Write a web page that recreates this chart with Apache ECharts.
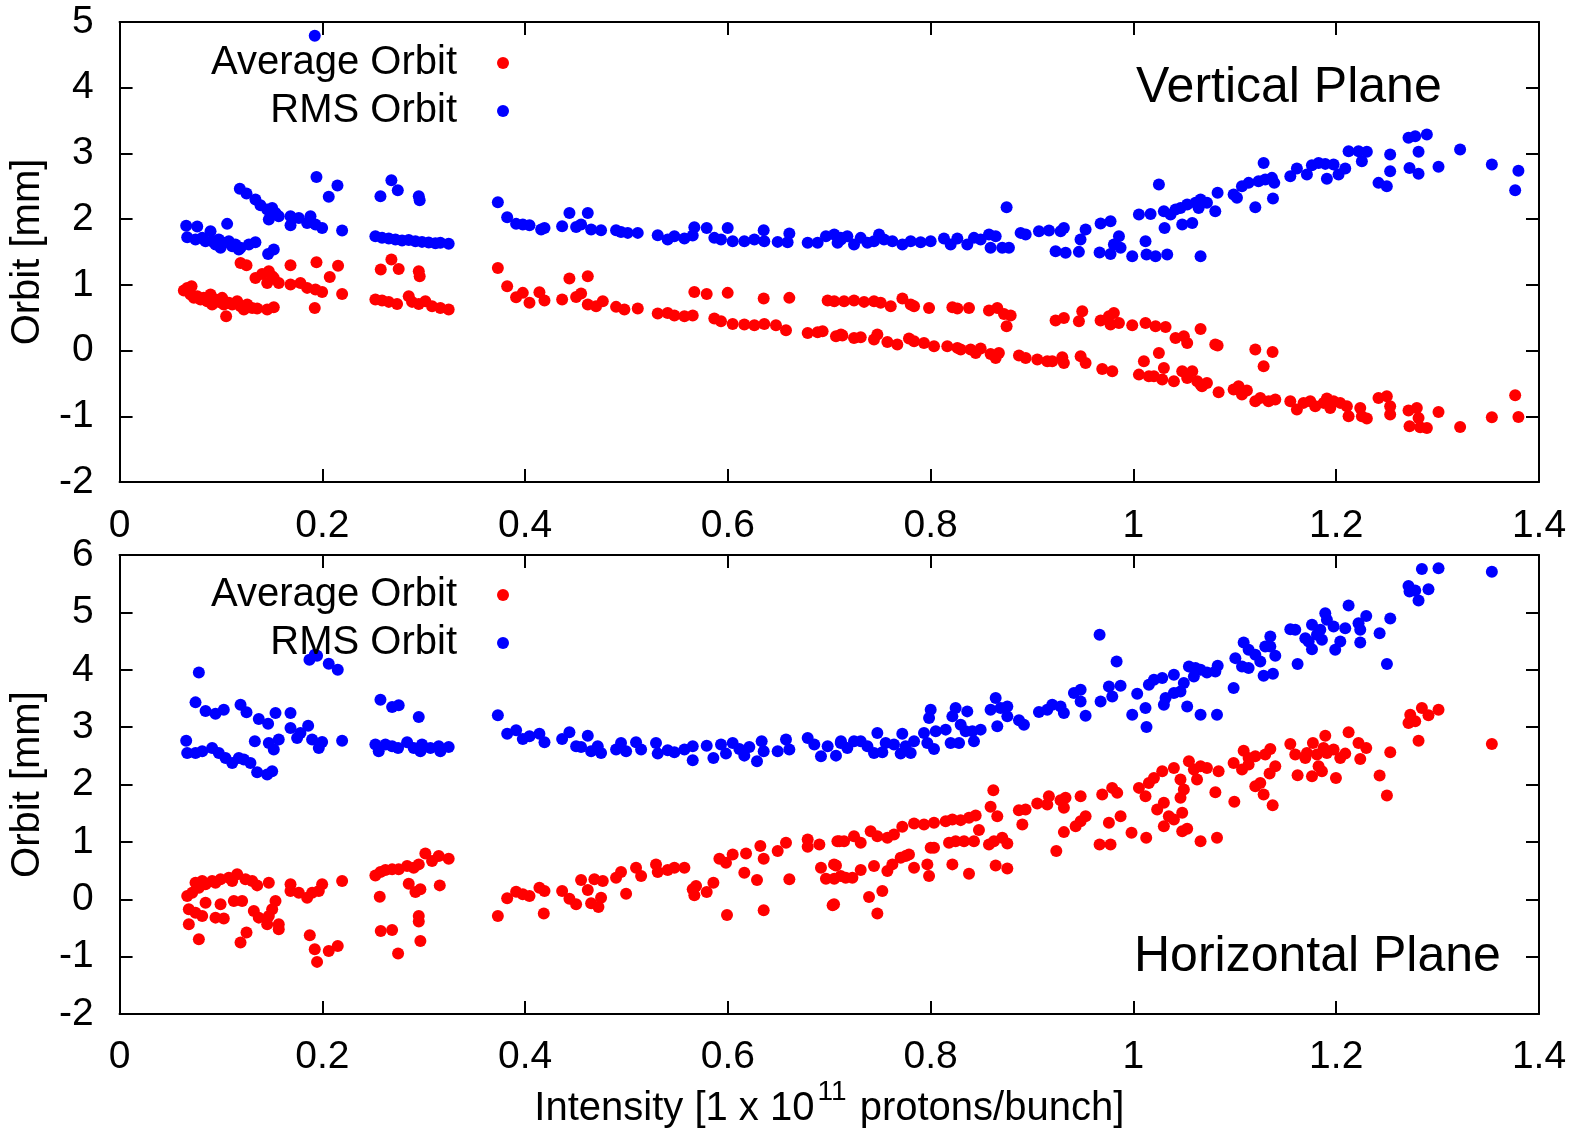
<!DOCTYPE html>
<html lang="en">

<head>
    <meta charset="UTF-8">
    <title>Orbit vs Intensity</title>
    <script src="https://cdn.jsdelivr.net/npm/echarts@6/dist/echarts.min.js"></script>
    <style>
        html, body { margin: 0; padding: 0; background: #fff; }
        #chart { width: 1585px; height: 1130px; }
    </style>
</head>

<body>
    <div id="chart"></div>

    <script>
        // x tick labels of both panels
        var xTicks = ['0', '0.2', '0.4', '0.6', '0.8', '1', '1.2', '1.4'];

        // Vertical plane - average orbit [intensity, mm]
        var vAvg = [
            [0.0634, 0.913], [0.0667, 0.954], [0.071, 0.979], [0.070, 0.852], [0.0733, 0.802], [0.0766, 0.827],
            [0.0798, 0.776], [0.0831, 0.802], [0.0864, 0.751], [0.0897, 0.852], [0.0913, 0.70], [0.0946, 0.776],
            [0.0979, 0.741], [0.1012, 0.802], [0.1028, 0.70], [0.1051, 0.523], [0.1078, 0.726], [0.1111, 0.70],
            [0.116, 0.751], [0.1193, 0.675], [0.1226, 0.624], [0.1259, 0.70], [0.1308, 0.649], [0.1357, 0.639],
            [0.1456, 0.624], [0.1521, 0.66], [0.1925, 0.649], [0.1193, 1.334], [0.1252, 1.299], [0.134, 1.106],
            [0.1406, 1.167], [0.1472, 1.208], [0.1505, 1.131], [0.157, 1.03], [0.1456, 1.03], [0.1521, 1.106],
            [0.1686, 1.299], [0.1942, 1.345], [0.2073, 1.121], [0.2155, 1.289], [0.1686, 1.005], [0.1784, 1.03],
            [0.185, 0.954], [0.1932, 0.928], [0.1998, 0.893], [0.2195, 0.862], [0.2576, 1.233], [0.2681, 1.385],
            [0.2753, 1.243], [0.2951, 1.207], [0.296, 1.131], [0.2523, 0.776], [0.2589, 0.761], [0.2655, 0.741],
            [0.2737, 0.71], [0.2852, 0.827], [0.2885, 0.741], [0.2951, 0.71], [0.3016, 0.751], [0.3082, 0.675],
            [0.3164, 0.649], [0.3246, 0.624],
            [0.3731, 1.258], [0.3823, 0.979], [0.3911, 0.812], [0.3977, 0.878], [0.4043, 0.726], [0.4141, 0.888],
            [0.4191, 0.761], [0.4365, 0.776], [0.4437, 1.096], [0.4503, 0.817], [0.4552, 0.868], [0.4618, 1.131],
            [0.4618, 0.70], [0.47, 0.675], [0.4766, 0.751], [0.4897, 0.665], [0.4979, 0.624], [0.5111, 0.639],
            [0.5308, 0.563], [0.5406, 0.573], [0.5472, 0.533], [0.5571, 0.523], [0.5653, 0.533], [0.5669, 0.893],
            [0.5791, 0.862], [0.5866, 0.487], [0.5932, 0.446], [0.5998, 0.878], [0.6047, 0.406], [0.6162, 0.396],
            [0.6261, 0.386], [0.6353, 0.791], [0.6359, 0.406], [0.6474, 0.386], [0.6573, 0.309], [0.6606, 0.802],
            [0.6787, 0.269], [0.6885, 0.279], [0.6934, 0.294], [0.6984, 0.761], [0.7049, 0.751], [0.7066, 0.218],
            [0.7115, 0.244],
            [0.7146, 0.751], [0.7244, 0.761], [0.7343, 0.741], [0.7441, 0.751], [0.7507, 0.726], [0.7606, 0.675],
            [0.7721, 0.791], [0.7803, 0.70], [0.7836, 0.675], [0.7984, 0.649], [0.8214, 0.66], [0.8263, 0.639],
            [0.8378, 0.649], [0.8575, 0.609], [0.8657, 0.649], [0.8723, 0.558], [0.8789, 0.533], [0.8749, 0.37],
            [0.7129, 0.228], [0.7244, 0.193], [0.731, 0.203], [0.7441, 0.167], [0.7474, 0.243], [0.7573, 0.132],
            [0.7671, 0.091], [0.7786, 0.183], [0.7836, 0.142], [0.7934, 0.117], [0.8033, 0.066], [0.8164, 0.066],
            [0.8263, 0.041], [0.8296, 0.015], [0.8394, 0.015], [0.8444, -0.036], [0.8493, 0.03], [0.8591, -0.051],
            [0.8641, -0.112], [0.8673, -0.036], [0.8871, -0.076], [0.8937, -0.112], [0.9052, -0.137], [0.915, -0.162],
            [0.9199, -0.162], [0.9298, -0.101], [0.9314, -0.188], [0.9479, -0.086], [0.9528, -0.188], [0.9692, -0.279],
            [0.9791, -0.315], [1.0054, -0.366], [1.0152, -0.391], [1.0202, -0.391], [1.0284, -0.442], [1.0399, -0.467],
            [1.0481, -0.315], [1.053, -0.416], [1.058, -0.315], [1.0629, -0.467], [1.0662, -0.518], [1.0103, -0.162],
            [1.0251, -0.036], [1.03, -0.264],
            [0.9232, 0.457], [0.9314, 0.497], [0.9462, 0.446], [0.9495, 0.599], [0.9676, 0.457], [0.9758, 0.523],
            [0.9807, 0.573], [0.9857, 0.421], [0.9774, 0.396], [0.9988, 0.386], [1.0119, 0.421], [1.0218, 0.37],
            [1.0317, 0.36], [1.0415, 0.193], [1.0497, 0.218], [1.053, 0.117], [1.0662, 0.33],
            [1.0676, -0.543], [1.0725, -0.492], [1.0807, 0.091], [1.083, 0.076], [1.084, -0.634], [1.0988, -0.594],
            [1.1037, -0.543], [1.107, -0.67], [1.1119, -0.609], [1.1202, 0.015], [1.1202, -0.771], [1.1251, -0.72],
            [1.1284, -0.238], [1.1333, -0.771], [1.1372, -0.02], [1.1399, -0.746], [1.1547, -0.771], [1.1612, -0.898],
            [1.1678, -0.796], [1.1744, -0.771], [1.1793, -0.847], [1.1875, -0.796], [1.1908, -0.731], [1.1941, -0.873],
            [1.1974, -0.771], [1.2039, -0.796], [1.2105, -0.847], [1.2122, -0.999], [1.2237, -0.873], [1.2253, -0.999],
            [1.2302, -1.035], [1.2417, -0.72], [1.2499, -0.695], [1.2532, -0.847], [1.2532, -0.974], [1.2713, -0.913],
            [1.2723, -1.152], [1.2795, -0.873], [1.2812, -1.025], [1.2828, -1.167], [1.2894, -1.177], [1.3009, -0.934],
            [1.3222, -1.162], [1.3535, -1.015], [1.3765, -0.68], [1.3797, -1.01]
        ];

        // Vertical plane - RMS orbit
        var vRms = [
            [0.1925, 4.79], [0.0657, 1.90], [0.0766, 1.887], [0.0667, 1.725], [0.0749, 1.689], [0.0815, 1.715],
            [0.0848, 1.664], [0.0897, 1.816], [0.0913, 1.664], [0.0946, 1.613], [0.0979, 1.689], [0.0996, 1.563],
            [0.1028, 1.639], [0.1061, 1.928], [0.1078, 1.664], [0.1111, 1.588], [0.1143, 1.613], [0.1176, 1.537],
            [0.1193, 1.563], [0.1275, 1.613], [0.134, 1.649], [0.1465, 1.471], [0.1521, 1.537], [0.1186, 2.461],
            [0.1252, 2.39], [0.134, 2.298], [0.139, 2.212], [0.1456, 2.146], [0.1505, 2.171], [0.1538, 2.095],
            [0.157, 2.045], [0.1472, 1.994], [0.1521, 2.095], [0.1686, 2.045], [0.1686, 1.908], [0.1768, 2.019],
            [0.1883, 2.045], [0.185, 1.943], [0.1932, 1.918], [0.1998, 1.867], [0.1942, 2.643], [0.2063, 2.339],
            [0.2149, 2.511], [0.2195, 1.826], [0.2573, 2.349], [0.2681, 2.592], [0.2744, 2.44], [0.2951, 2.349],
            [0.296, 2.288], [0.2523, 1.74], [0.2589, 1.715], [0.2655, 1.705], [0.2721, 1.689], [0.2786, 1.674],
            [0.2852, 1.684], [0.2918, 1.664], [0.2983, 1.654], [0.3049, 1.644], [0.3115, 1.634], [0.3164, 1.639],
            [0.3246, 1.624],
            [0.3731, 2.258], [0.3823, 2.029], [0.3911, 1.928], [0.3977, 1.918], [0.4043, 1.907], [0.4158, 1.842],
            [0.4191, 1.867], [0.4365, 1.892], [0.4437, 2.095], [0.4503, 1.882], [0.4552, 1.918], [0.4618, 2.095],
            [0.4651, 1.842], [0.4749, 1.831], [0.4897, 1.831], [0.4946, 1.806], [0.5012, 1.791], [0.5111, 1.791],
            [0.5308, 1.755], [0.5406, 1.689], [0.5472, 1.74], [0.5571, 1.705], [0.5653, 1.75], [0.5669, 1.877],
            [0.5791, 1.867], [0.5866, 1.715], [0.5932, 1.689], [0.5998, 1.867], [0.6047, 1.664], [0.6162, 1.664],
            [0.6261, 1.689], [0.6353, 1.831], [0.6359, 1.664], [0.6491, 1.654], [0.6589, 1.649], [0.6606, 1.781],
            [0.6787, 1.639], [0.6885, 1.639], [0.6967, 1.74], [0.7049, 1.766], [0.7082, 1.639], [0.7115, 1.689],
            [0.7113, 1.715], [0.7178, 1.74], [0.7244, 1.613], [0.731, 1.715], [0.7376, 1.639], [0.7441, 1.664],
            [0.7491, 1.766], [0.754, 1.689], [0.7622, 1.664], [0.7721, 1.613], [0.7803, 1.664], [0.7901, 1.649],
            [0.80, 1.664], [0.8131, 1.705], [0.8197, 1.613], [0.8263, 1.705], [0.8361, 1.613], [0.8427, 1.715],
            [0.8493, 1.689], [0.8575, 1.766], [0.8641, 1.74], [0.8591, 1.563], [0.8706, 1.563], [0.8772, 1.563],
            [0.8749, 2.182], [0.8887, 1.791], [0.8937, 1.766], [0.9068, 1.816], [0.9167, 1.826], [0.9282, 1.816],
            [0.9314, 1.867], [0.9232, 1.512], [0.9331, 1.487], [0.9462, 1.502], [0.9478, 1.689], [0.9528, 1.842],
            [0.9676, 1.933], [0.9774, 1.969], [0.9666, 1.492], [0.9774, 1.471], [0.9807, 1.613], [0.9857, 1.74],
            [0.9873, 1.563], [0.9988, 1.436], [1.0054, 2.07], [1.0119, 1.664], [1.0169, 2.08], [1.0129, 1.461],
            [1.0218, 1.436], [1.0251, 2.527], [1.03, 2.121], [1.0307, 1.867], [1.0333, 1.461], [1.0366, 2.07],
            [1.0415, 2.146], [1.0464, 2.171], [1.0481, 1.918], [1.053, 2.222], [1.058, 1.943], [1.0612, 2.248],
            [1.0662, 2.298], [1.0662, 1.436],
            [1.0643, 2.171], [1.0725, 2.248], [1.0807, 2.121], [1.083, 2.40], [1.0988, 2.374], [1.1021, 2.324],
            [1.107, 2.501], [1.1136, 2.552], [1.1202, 2.182], [1.1234, 2.577], [1.1284, 2.856], [1.13, 2.603],
            [1.1366, 2.628], [1.1376, 2.314], [1.1389, 2.552], [1.1547, 2.653], [1.1612, 2.77], [1.1711, 2.679],
            [1.176, 2.821], [1.1826, 2.856], [1.1892, 2.841], [1.1908, 2.613], [1.1974, 2.831], [1.2023, 2.679],
            [1.2089, 2.77], [1.2122, 3.034], [1.222, 3.034], [1.2253, 2.882], [1.2302, 3.024], [1.2417, 2.552],
            [1.2499, 2.501], [1.2532, 2.983], [1.2532, 2.73], [1.2713, 3.237], [1.2723, 2.78], [1.2779, 3.262],
            [1.2812, 3.024], [1.2812, 2.689], [1.2894, 3.288], [1.3009, 2.796], [1.3222, 3.059], [1.3535, 2.831],
            [1.3765, 2.44], [1.3797, 2.735]
        ];

        // Horizontal plane - average orbit
        var hAvg = [
            [0.0667, 0.058], [0.0683, -0.174], [0.0716, 0.116], [0.0782, 0.203], [0.0848, 0.261], [0.0913, 0.319],
            [0.0996, 0.348], [0.1078, 0.377], [0.116, 0.435], [0.1242, 0.348], [0.1308, 0.319], [0.1357, 0.243],
            [0.1472, 0.29], [0.0749, 0.29], [0.0815, 0.319], [0.0946, 0.29], [0.1111, 0.319], [0.0848, -0.058],
            [0.0996, -0.087], [0.1127, -0.029], [0.1209, -0.029], [0.0749, -0.232], [0.0815, -0.29], [0.0946, -0.319],
            [0.1028, -0.336], [0.0683, -0.435], [0.1324, -0.203], [0.1373, -0.319], [0.1456, -0.435], [0.1538, -0.029],
            [0.1505, -0.174], [0.1472, -0.29], [0.157, -0.435], [0.157, -0.522], [0.0782, -0.696], [0.1193, -0.754],
            [0.1252, -0.58], [0.1686, 0.261], [0.1686, 0.145], [0.1768, 0.116], [0.185, 0.029], [0.1899, 0.116],
            [0.1965, 0.145], [0.1998, 0.261], [0.2195, 0.319], [0.1876, -0.626], [0.1925, -0.87], [0.1948, -1.09],
            [0.2063, -0.899], [0.2152, -0.812], [0.2523, 0.417], [0.2573, 0.475], [0.2622, 0.51], [0.2688, 0.522],
            [0.2753, 0.522], [0.2836, 0.58], [0.2901, 0.551], [0.2951, 0.609], [0.3016, 0.80], [0.3082, 0.667],
            [0.3148, 0.754], [0.3246, 0.707], [0.2852, 0.272], [0.2918, 0.128], [0.2967, 0.174], [0.3158, 0.243],
            [0.2566, 0.046], [0.2576, -0.551], [0.2688, -0.533], [0.2747, -0.945], [0.2951, -0.29], [0.2951, -0.388],
            [0.2967, -0.725],
            [0.3731, -0.29], [0.3823, 0.017], [0.3911, 0.133], [0.3977, 0.087], [0.4043, 0.058], [0.4141, 0.203],
            [0.4184, -0.249], [0.4191, 0.145], [0.4365, 0.145], [0.4437, 0.012], [0.4503, -0.087], [0.4552, 0.336],
            [0.4618, 0.162], [0.4651, -0.07], [0.4683, 0.348], [0.4723, -0.133], [0.4749, 0.029], [0.4766, 0.319],
            [0.4897, 0.377], [0.4946, 0.475], [0.4996, 0.099], [0.5094, 0.551], [0.5144, 0.406], [0.5291, 0.609],
            [0.5308, 0.475], [0.5406, 0.51], [0.5472, 0.551], [0.5571, 0.551], [0.5653, 0.174], [0.5669, 0.07],
            [0.5686, 0.232], [0.5791, 0.128], [0.5857, 0.29], [0.5916, 0.707], [0.5981, 0.638], [0.5991, -0.272],
            [0.6047, 0.783], [0.6162, 0.464], [0.6179, 0.80], [0.6287, 0.336], [0.632, 0.928], [0.6353, 0.707],
            [0.6353, -0.191], [0.6491, 0.841], [0.6573, 0.986], [0.6606, 0.348], [0.6787, 1.043], [0.6787, 0.916],
            [0.6902, 0.957], [0.6918, 0.551], [0.6967, 0.359], [0.7033, -0.104], [0.7049, 0.359], [0.7066, 0.591],
            [0.7099, 1.014],
            [0.7047, -0.087], [0.7047, 0.609], [0.7113, 0.406], [0.7162, 0.377], [0.7228, 0.377], [0.731, 0.51],
            [0.7392, 0.041], [0.7441, 0.58], [0.7474, -0.249], [0.7523, 0.145], [0.7573, 0.493], [0.7622, 0.609],
            [0.7704, 0.725], [0.7753, 0.754], [0.7786, 0.783], [0.7836, 0.551], [0.7967, 0.609], [0.7984, 0.406],
            [0.8214, 0.609], [0.8378, 0.446], [0.8641, 0.591], [0.8756, 0.539], [0.708, 1.014], [0.7146, 1.014],
            [0.7244, 1.101], [0.731, 0.986], [0.7408, 1.188], [0.7474, 1.101], [0.7573, 1.072], [0.7638, 1.13],
            [0.772, 1.264], [0.7836, 1.322], [0.7934, 1.304], [0.8033, 1.333], [0.8148, 1.362], [0.8214, 1.391],
            [0.8296, 1.38], [0.8378, 1.42], [0.8444, 1.461], [0.8476, 1.206], [0.8591, 1.612], [0.8618, 1.901],
            [0.8657, 1.449], [0.8575, 0.957], [0.8624, 1.014], [0.8706, 1.072], [0.8756, 0.974], [0.80, 0.899],
            [0.8033, 0.899], [0.8181, 0.986], [0.8246, 1.014], [0.8329, 1.014], [0.8427, 1.014], [0.887, 1.554],
            [0.8936, 1.565], [0.8904, 1.304], [0.9051, 1.67], [0.9166, 1.797], [0.915, 1.652], [0.9281, 1.728],
            [0.9314, 1.594], [0.933, 1.768], [0.9314, 1.171], [0.9479, 1.797], [0.943, 1.275], [0.9479, 1.362],
            [0.9528, 1.449], [0.9239, 0.841], [0.9666, 0.957], [0.9774, 0.957], [0.9692, 1.826], [0.979, 1.942],
            [0.984, 1.855], [0.9873, 1.449], [0.9758, 1.333], [0.9981, 1.159], [1.0054, 1.942], [1.0119, 1.797],
            [1.0152, 2.029], [1.0202, 2.116], [1.0284, 2.232], [1.0399, 2.29], [1.0464, 2.087], [1.0547, 2.406],
            [1.0596, 2.261], [1.0662, 2.319], [1.0234, 1.565], [1.03, 1.681], [1.0349, 1.449], [1.0399, 1.391],
            [1.0464, 1.768], [1.0481, 1.507], [1.0497, 1.913], [1.03, 1.275], [1.0481, 1.188], [1.053, 1.229],
            [1.0126, 1.072], [1.0662, 1.014],
            [1.0627, 2.087], [1.0725, 2.29], [1.0808, 1.867], [1.084, 2.232], [1.0824, 1.072], [1.0988, 2.377],
            [1.0995, 1.699], [1.1071, 2.261], [1.1087, 2.591], [1.1136, 2.348], [1.1136, 2.464], [1.1202, 1.971],
            [1.1202, 2.493], [1.1251, 2.029], [1.1284, 1.826], [1.13, 2.522], [1.135, 2.62], [1.1343, 2.191],
            [1.1373, 1.641], [1.1399, 2.319], [1.1547, 2.707], [1.1596, 2.522], [1.1619, 2.162], [1.1695, 2.464],
            [1.1711, 2.551], [1.1761, 2.145], [1.177, 2.725], [1.181, 2.522], [1.1826, 2.319], [1.1859, 2.232],
            [1.1875, 2.638], [1.1892, 2.852], [1.1908, 2.551], [1.1974, 2.609], [1.1997, 2.116], [1.204, 2.464],
            [1.2089, 2.539], [1.2122, 2.91], [1.222, 2.725], [1.2237, 2.446], [1.2296, 2.638], [1.2428, 2.157],
            [1.25, 1.809], [1.2533, 2.562], [1.2713, 3.072], [1.273, 3.217], [1.2779, 3.101], [1.2812, 2.765],
            [1.2845, 3.333], [1.291, 3.206], [1.3009, 3.304], [1.3535, 2.707]
        ];

        // Horizontal plane - RMS orbit
        var hRms = [
            [0.0782, 3.954], [0.0657, 2.765], [0.0667, 2.551], [0.0749, 3.432], [0.0848, 3.281], [0.0946, 3.235],
            [0.1028, 3.304], [0.0749, 2.551], [0.0815, 2.58], [0.0913, 2.638], [0.0979, 2.551], [0.1045, 2.464],
            [0.1111, 2.377], [0.1176, 2.464], [0.1226, 2.435], [0.1291, 2.377], [0.1357, 2.214], [0.1334, 2.754],
            [0.1456, 2.174], [0.1505, 2.232], [0.1193, 3.391], [0.1252, 3.258], [0.1373, 3.142], [0.1465, 3.061],
            [0.1538, 3.246], [0.1472, 2.725], [0.1521, 2.609], [0.157, 2.783], [0.1686, 3.246], [0.1686, 2.986],
            [0.1751, 2.812], [0.1784, 2.899], [0.186, 3.026], [0.1899, 2.783], [0.1965, 2.638], [0.1998, 2.742],
            [0.2195, 2.765], [0.1873, 4.174], [0.1925, 4.261], [0.1948, 4.243], [0.2063, 4.104], [0.2152, 4.0],
            [0.2573, 3.478], [0.2688, 3.351], [0.2753, 3.38], [0.2951, 3.177], [0.2523, 2.696], [0.2556, 2.58],
            [0.2622, 2.696], [0.2688, 2.667], [0.2747, 2.638], [0.2836, 2.736], [0.2901, 2.638], [0.2967, 2.58],
            [0.2983, 2.696], [0.3066, 2.638], [0.3148, 2.667], [0.3164, 2.58], [0.3246, 2.655],
            [0.3731, 3.206], [0.3823, 2.887], [0.3911, 2.945], [0.3977, 2.794], [0.4043, 2.841], [0.4141, 2.887],
            [0.4191, 2.736], [0.4365, 2.794], [0.4437, 2.91], [0.4503, 2.667], [0.4552, 2.655], [0.4618, 2.852],
            [0.4651, 2.58], [0.4716, 2.667], [0.4749, 2.551], [0.4897, 2.609], [0.4946, 2.725], [0.4996, 2.58],
            [0.5094, 2.736], [0.5144, 2.609], [0.5291, 2.725], [0.5308, 2.539], [0.5406, 2.597], [0.5472, 2.562],
            [0.5571, 2.609], [0.5653, 2.667], [0.5653, 2.423], [0.5791, 2.678], [0.5857, 2.464], [0.5932, 2.696],
            [0.5981, 2.539], [0.6047, 2.725], [0.6113, 2.62], [0.6162, 2.504], [0.6211, 2.655], [0.6287, 2.406],
            [0.6333, 2.754], [0.6353, 2.58], [0.6491, 2.58], [0.6573, 2.783], [0.6606, 2.609], [0.6787, 2.812],
            [0.6852, 2.696], [0.6918, 2.493], [0.6984, 2.667], [0.7066, 2.504], [0.7115, 2.754],
            [0.7113, 2.725], [0.7178, 2.638], [0.7244, 2.754], [0.731, 2.754], [0.7376, 2.667], [0.7441, 2.551],
            [0.7474, 2.899], [0.7523, 2.562], [0.7556, 2.725], [0.7638, 2.696], [0.7704, 2.539], [0.772, 2.887],
            [0.7753, 2.667], [0.7803, 2.551], [0.7836, 2.754], [0.7934, 2.899], [0.7967, 2.725], [0.80, 3.304],
            [0.7984, 3.159], [0.8033, 2.62], [0.805, 2.928], [0.8148, 2.957], [0.8197, 2.725], [0.8214, 3.188],
            [0.8246, 3.333], [0.8296, 3.043], [0.828, 2.725], [0.8345, 2.928], [0.8361, 3.275], [0.8411, 2.928],
            [0.8427, 2.754], [0.8493, 2.957], [0.8591, 3.304], [0.8641, 3.507], [0.8657, 3.014], [0.869, 3.333],
            [0.8756, 3.362], [0.8756, 3.188], [0.8871, 3.119], [0.892, 3.043], [0.9068, 3.264], [0.915, 3.304],
            [0.9199, 3.391], [0.9281, 3.362], [0.9314, 3.246], [0.9413, 3.594], [0.9479, 3.652], [0.9479, 3.449],
            [0.9528, 3.20], [0.9666, 4.609], [0.9676, 3.449], [0.9758, 3.71], [0.9791, 3.536], [0.9834, 4.145],
            [0.9873, 3.722], [0.9988, 3.217], [1.0037, 3.583], [1.0119, 3.333], [1.0129, 3.003], [1.0152, 3.739],
            [1.0202, 3.826], [1.0284, 3.855], [1.03, 3.391], [1.0317, 3.507], [1.0399, 3.913], [1.0399, 3.594],
            [1.0464, 3.623], [1.0497, 3.768], [1.053, 3.362], [1.0547, 4.058], [1.0596, 3.884], [1.0612, 4.029],
            [1.0662, 3.217], [1.0662, 4.0],
            [1.0725, 3.954], [1.0808, 3.971], [1.0831, 4.07], [1.0824, 3.217], [1.0988, 3.681], [1.1005, 4.203],
            [1.1071, 4.058], [1.1087, 4.475], [1.1136, 4.029], [1.1136, 4.348], [1.1202, 4.261], [1.1251, 4.145],
            [1.1284, 3.896], [1.13, 4.406], [1.135, 4.58], [1.135, 4.406], [1.1376, 3.93], [1.1399, 4.243],
            [1.1547, 4.707], [1.1596, 4.696], [1.1619, 4.099], [1.1695, 4.551], [1.1728, 4.493], [1.1761, 4.783],
            [1.1761, 4.359], [1.181, 4.609], [1.1843, 4.696], [1.1859, 4.522], [1.1892, 4.986], [1.1908, 4.87],
            [1.1974, 4.754], [1.199, 4.348], [1.204, 4.493], [1.2089, 4.725], [1.2122, 5.119], [1.222, 4.812],
            [1.2237, 4.696], [1.2237, 4.475], [1.2296, 4.939], [1.2428, 4.638], [1.25, 4.099], [1.2533, 4.893],
            [1.2713, 5.461], [1.2723, 5.362], [1.2779, 5.38], [1.2812, 5.206], [1.2845, 5.757], [1.291, 5.403],
            [1.3009, 5.768], [1.3535, 5.71]
        ];

        var RED = '#ff0000';
        var BLUE = '#0000ff';
        var FONT = 'Liberation Sans';

        var myChart = echarts.init(document.getElementById('chart'), null, { renderer: 'canvas' });

        // common axis pieces
        var lineStyle = { color: '#000', width: 2 };

        function xAxisOf(grid, withLabels, pos, margin) {
            return {
                type: 'value',
                gridIndex: grid,
                position: pos,
                min: 0,
                max: 1.4,
                interval: 0.2,
                axisLine: { show: true, onZero: false, lineStyle: lineStyle },
                axisTick: { show: true, inside: true, length: 13, lineStyle: { color: '#000', width: 2 } },
                axisLabel: {
                    show: withLabels,
                    margin: margin || 21,
                    fontSize: 39,
                    fontFamily: FONT,
                    color: '#000',
                    formatter: function (v) {
                        return xTicks[Math.round(v / 0.2)];
                    }
                },
                splitLine: { show: false }
            };
        }

        function yAxisOf(grid, min, max, withLabels, pos) {
            return {
                type: 'value',
                gridIndex: grid,
                position: pos,
                min: min,
                max: max,
                interval: 1,
                name: withLabels ? 'Orbit [mm]' : '',
                nameLocation: 'middle',
                nameGap: 65,
                nameTextStyle: { fontSize: 40, fontFamily: FONT, color: '#000' },
                axisLine: { show: true, onZero: false, lineStyle: lineStyle },
                axisTick: { show: true, inside: true, length: 13, lineStyle: { color: '#000', width: 2 } },
                axisLabel: { show: withLabels, margin: 26, fontSize: 39, fontFamily: FONT, color: '#000' },
                splitLine: { show: false }
            };
        }

        var bottomX = xAxisOf(1, true, 'bottom', 24);
        bottomX.name = 'Intensity [1 x 10{sup|11} protons/bunch]';
        bottomX.nameLocation = 'middle';
        bottomX.nameGap = 61;
        bottomX.nameTextStyle = {
            fontSize: 40,
            fontFamily: FONT,
            color: '#000',
            rich: {
                sup: { fontSize: 28, fontFamily: FONT, color: '#000', verticalAlign: 'top', padding: [0, 2, 34, 3] }
            }
        };

        function legendAt(top) {
            return {
                orient: 'vertical',
                align: 'right',
                right: 1071,
                top: top,
                itemGap: 8,
                itemWidth: 12,
                itemHeight: 12,
                icon: 'circle',
                selectedMode: false,
                textStyle: { fontSize: 40, fontFamily: FONT, color: '#000', padding: [0, 35, 0, 0] },
                data: ['Average Orbit', 'RMS Orbit']
            };
        }

        var option = {
            animation: false,
            backgroundColor: '#fff',
            textStyle: { fontFamily: FONT },
            title: [
                { text: 'Vertical Plane', left: 1131, top: 58, textStyle: { fontSize: 50, fontWeight: 'normal', fontFamily: FONT, color: '#000' } },
                { text: 'Horizontal Plane', left: 1129, top: 927, textStyle: { fontSize: 50, fontWeight: 'normal', fontFamily: FONT, color: '#000' } }
            ],
            legend: [legendAt(38), legendAt(570)],
            grid: [
                { left: 119, right: 46, top: 22, height: 460 },
                { left: 119, right: 46, top: 555, height: 460 }
            ],
            xAxis: [
                xAxisOf(0, true, 'bottom', 25),
                xAxisOf(0, false, 'top'),
                bottomX,
                xAxisOf(1, false, 'top')
            ],
            yAxis: [
                yAxisOf(0, -2, 5, true, 'left'),
                yAxisOf(0, -2, 5, false, 'right'),
                yAxisOf(1, -2, 6, true, 'left'),
                yAxisOf(1, -2, 6, false, 'right')
            ],
            series: [
                { name: 'Average Orbit', type: 'scatter', xAxisIndex: 0, yAxisIndex: 0, symbolSize: 12, itemStyle: { color: RED, opacity: 1 }, data: vAvg },
                { name: 'RMS Orbit', type: 'scatter', xAxisIndex: 0, yAxisIndex: 0, symbolSize: 12, itemStyle: { color: BLUE, opacity: 1 }, data: vRms },
                { name: 'Average Orbit', type: 'scatter', xAxisIndex: 2, yAxisIndex: 2, symbolSize: 12, itemStyle: { color: RED, opacity: 1 }, data: hAvg },
                { name: 'RMS Orbit', type: 'scatter', xAxisIndex: 2, yAxisIndex: 2, symbolSize: 12, itemStyle: { color: BLUE, opacity: 1 }, data: hRms }
            ]
        };

        myChart.setOption(option);
    </script>
</body>

</html>
